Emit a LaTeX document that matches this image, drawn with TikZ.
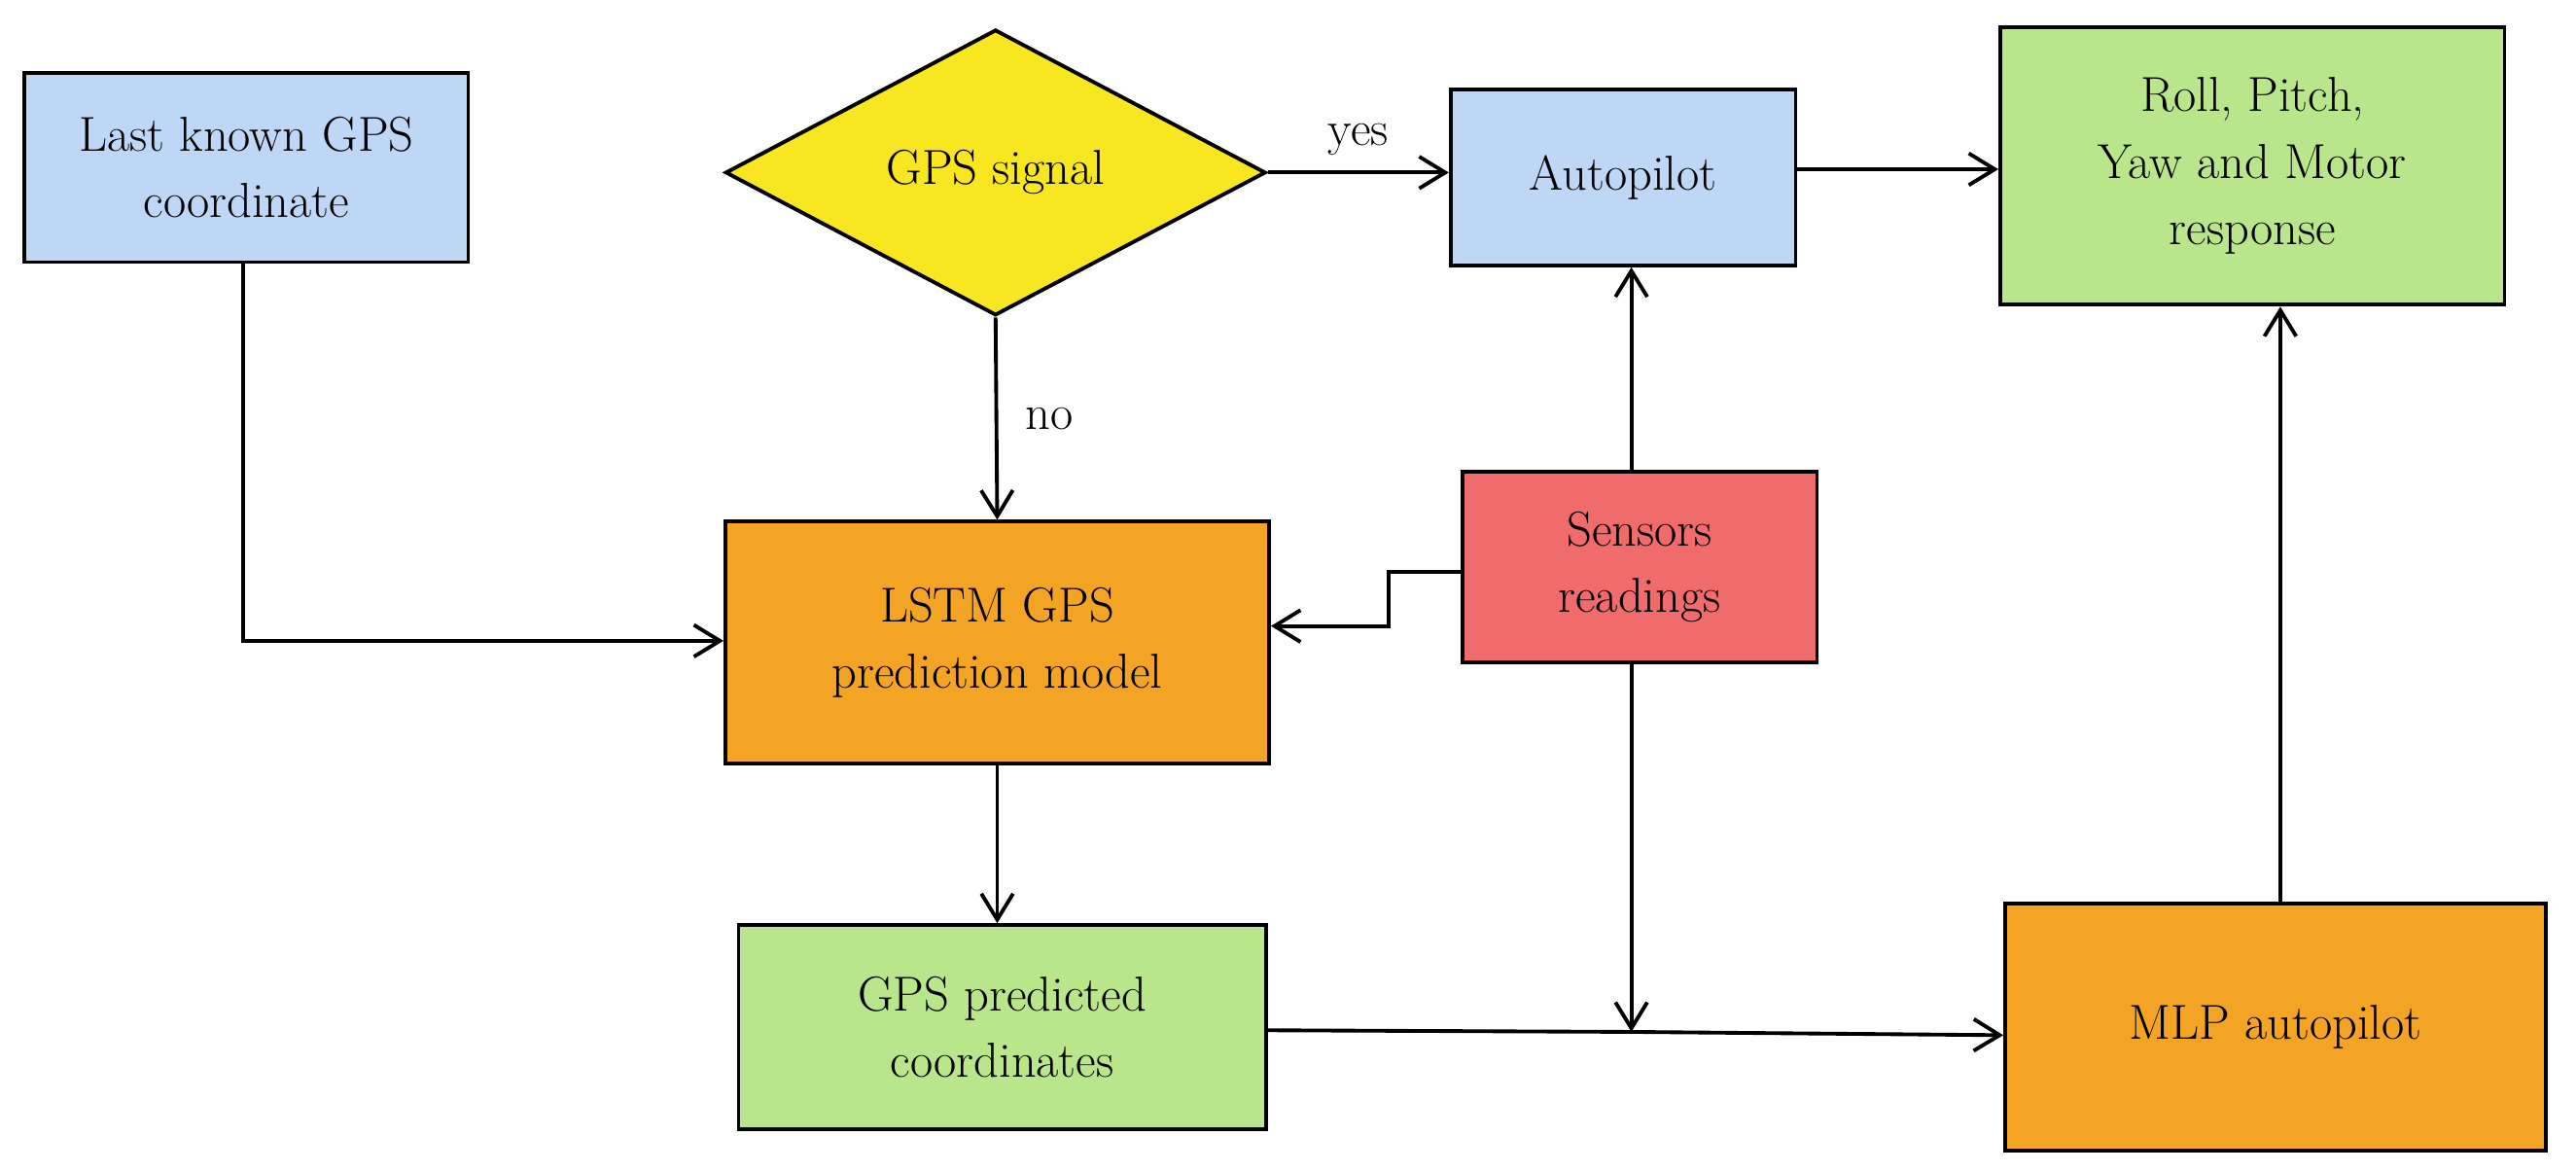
\documentclass[tikz,border=0pt]{standalone}
\usepackage{mathpazo}
\usetikzlibrary{shapes.geometric,arrows.meta}
\definecolor{cblue}{HTML}{BDD7F5}
\definecolor{cyel}{HTML}{F7E620}
\definecolor{cgreen}{HTML}{B9E68A}
\definecolor{corange}{HTML}{F4A425}
\definecolor{cred}{HTML}{F06B6B}
\begin{document}
\begin{tikzpicture}[x=0.02cm,y=-0.02cm,
  box/.style={draw,line width=1.3pt,align=center,inner sep=0pt,font=\fontsize{17}{23}\selectfont},
  arr/.style={line width=1.3pt,-{Straight Barb[length=9pt,width=11pt,line width=1.3pt]}},
  ln/.style={line width=1.3pt},
  lab/.style={font=\fontsize{17}{21}\selectfont}]
\useasboundingbox (0,0) rectangle (1568,713);
\node[box,fill=cblue,minimum width=270\pgflinewidth*0+5.4cm,minimum height=2.3cm] (last) at (150,102) {Last known GPS\\coordinate};
\node[box,fill=cyel,diamond,aspect=1.89,minimum width=6.58cm,minimum height=3.48cm] (gps) at (606,105) {GPS signal};
\node[box,fill=cblue,minimum width=4.2cm,minimum height=2.14cm] (auto) at (988,108) {Autopilot};
\node[box,fill=cgreen,minimum width=6.14cm,minimum height=3.38cm] (roll) at (1371,101) {Roll, Pitch,\\Yaw and Motor\\response};
\node[box,fill=corange,minimum width=6.62cm,minimum height=2.94cm] (lstm) at (607,391) {LSTM GPS\\prediction model};
\node[box,fill=cred,minimum width=4.32cm,minimum height=2.32cm] (sens) at (998,345) {Sensors\\readings};
\node[box,fill=cgreen,minimum width=6.42cm,minimum height=2.48cm] (pred) at (610,625) {GPS predicted\\coordinates};
\node[box,fill=corange,minimum width=6.58cm,minimum height=3.0cm] (mlp) at (1385,625) {MLP autopilot};
\coordinate (j) at (993,628);
\draw[arr] (gps.east) -- (auto.west |- gps.east) node[lab,midway,above=2pt] {yes};
\draw[arr] (gps.south) -- (lstm.north) node[lab,midway,right=6pt] {no};
\draw[arr] (last.south -| 148,0) |- (lstm.west |- 0,390);
\draw[arr] (sens.west |- 0,348) -- (845,348) -- (845,381) -- (lstm.east |- 0,381);
\draw[arr] (sens.north -| 993,0) -- (auto.south -| 993,0);
\draw[arr] (auto.east |- 0,103) -- (roll.west |- 0,103);
\draw[arr] (lstm.south) -- (pred.north -| lstm.south);
\draw[arr] (pred.east |- 0,627) -- (j) -- (mlp.west |- 0,630);
\draw[arr] (sens.south -| j) -- (j);
\draw[arr] (mlp.north -| 1388,0) -- (roll.south -| 1388,0);
\end{tikzpicture}
\end{document}
